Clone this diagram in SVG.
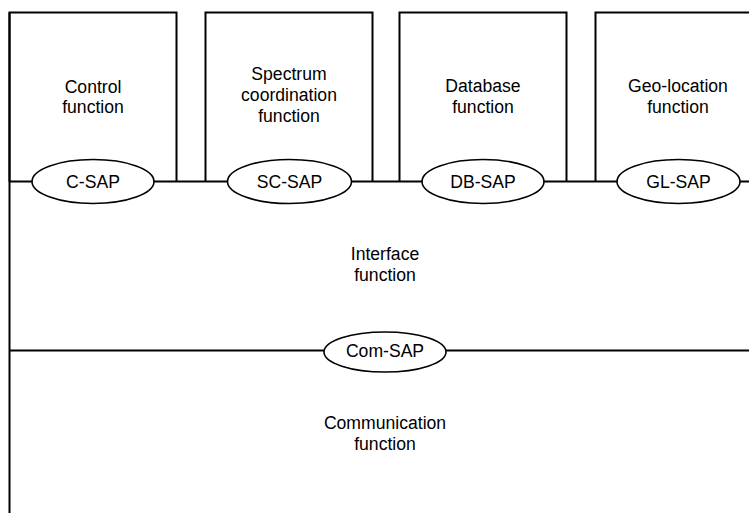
<svg xmlns="http://www.w3.org/2000/svg" width="749" height="513" viewBox="0 0 749 513">
<style>
.ln{fill:none;stroke:#000;stroke-width:2}
.el{fill:#fff;stroke:#000;stroke-width:1.6}
text{font-family:"Liberation Sans",Arial,sans-serif;font-size:17.6px;fill:#000;text-anchor:middle}
</style>
<rect width="749" height="513" fill="#fff"/>
<g id="connectors">
<line class="ln" x1="9.5" y1="181.5" x2="749" y2="181.5"/>
<line class="ln" x1="9.5" y1="350.5" x2="749" y2="350.5"/>
<line class="ln" x1="9.5" y1="12.5" x2="9.5" y2="513"/>
</g>
<g id="control">
<polyline class="ln" points="9.5,181.5 9.5,12.5 176.5,12.5 176.5,181.5"/>
<text x="93" y="92.5">Control</text>
<text x="93" y="113">function</text>
</g>
<g id="spectrum">
<polyline class="ln" points="205.5,181.5 205.5,12.5 372.5,12.5 372.5,181.5"/>
<text x="289" y="80">Spectrum</text>
<text x="289" y="101">coordination</text>
<text x="289" y="122">function</text>
</g>
<g id="database">
<polyline class="ln" points="399.5,181.5 399.5,12.5 566.5,12.5 566.5,181.5"/>
<text x="483" y="92">Database</text>
<text x="483" y="112.5">function</text>
</g>
<g id="geolocation">
<polyline class="ln" points="595.5,181.5 595.5,12.5 749,12.5"/>
<text x="678" y="92">Geo-location</text>
<text x="678" y="112.5">function</text>
</g>
<g id="c-sap">
<ellipse class="el" cx="93" cy="181.5" rx="61" ry="22"/>
<text x="93" y="187.5">C-SAP</text>
</g>
<g id="sc-sap">
<ellipse class="el" cx="289.5" cy="181.5" rx="62" ry="22"/>
<text x="289.5" y="187.5">SC-SAP</text>
</g>
<g id="db-sap">
<ellipse class="el" cx="483" cy="181.5" rx="61" ry="22"/>
<text x="483" y="187.5">DB-SAP</text>
</g>
<g id="gl-sap">
<ellipse class="el" cx="678.5" cy="181.5" rx="61.5" ry="22"/>
<text x="678.5" y="187.5">GL-SAP</text>
</g>
<g id="interface">
<text x="385" y="259.5">Interface</text>
<text x="385" y="281">function</text>
</g>
<g id="com-sap">
<ellipse class="el" cx="385" cy="352" rx="61" ry="20"/>
<text x="385" y="356.5">Com-SAP</text>
</g>
<g id="communication">
<text x="385" y="428.5">Communication</text>
<text x="385" y="450">function</text>
</g>
</svg>
